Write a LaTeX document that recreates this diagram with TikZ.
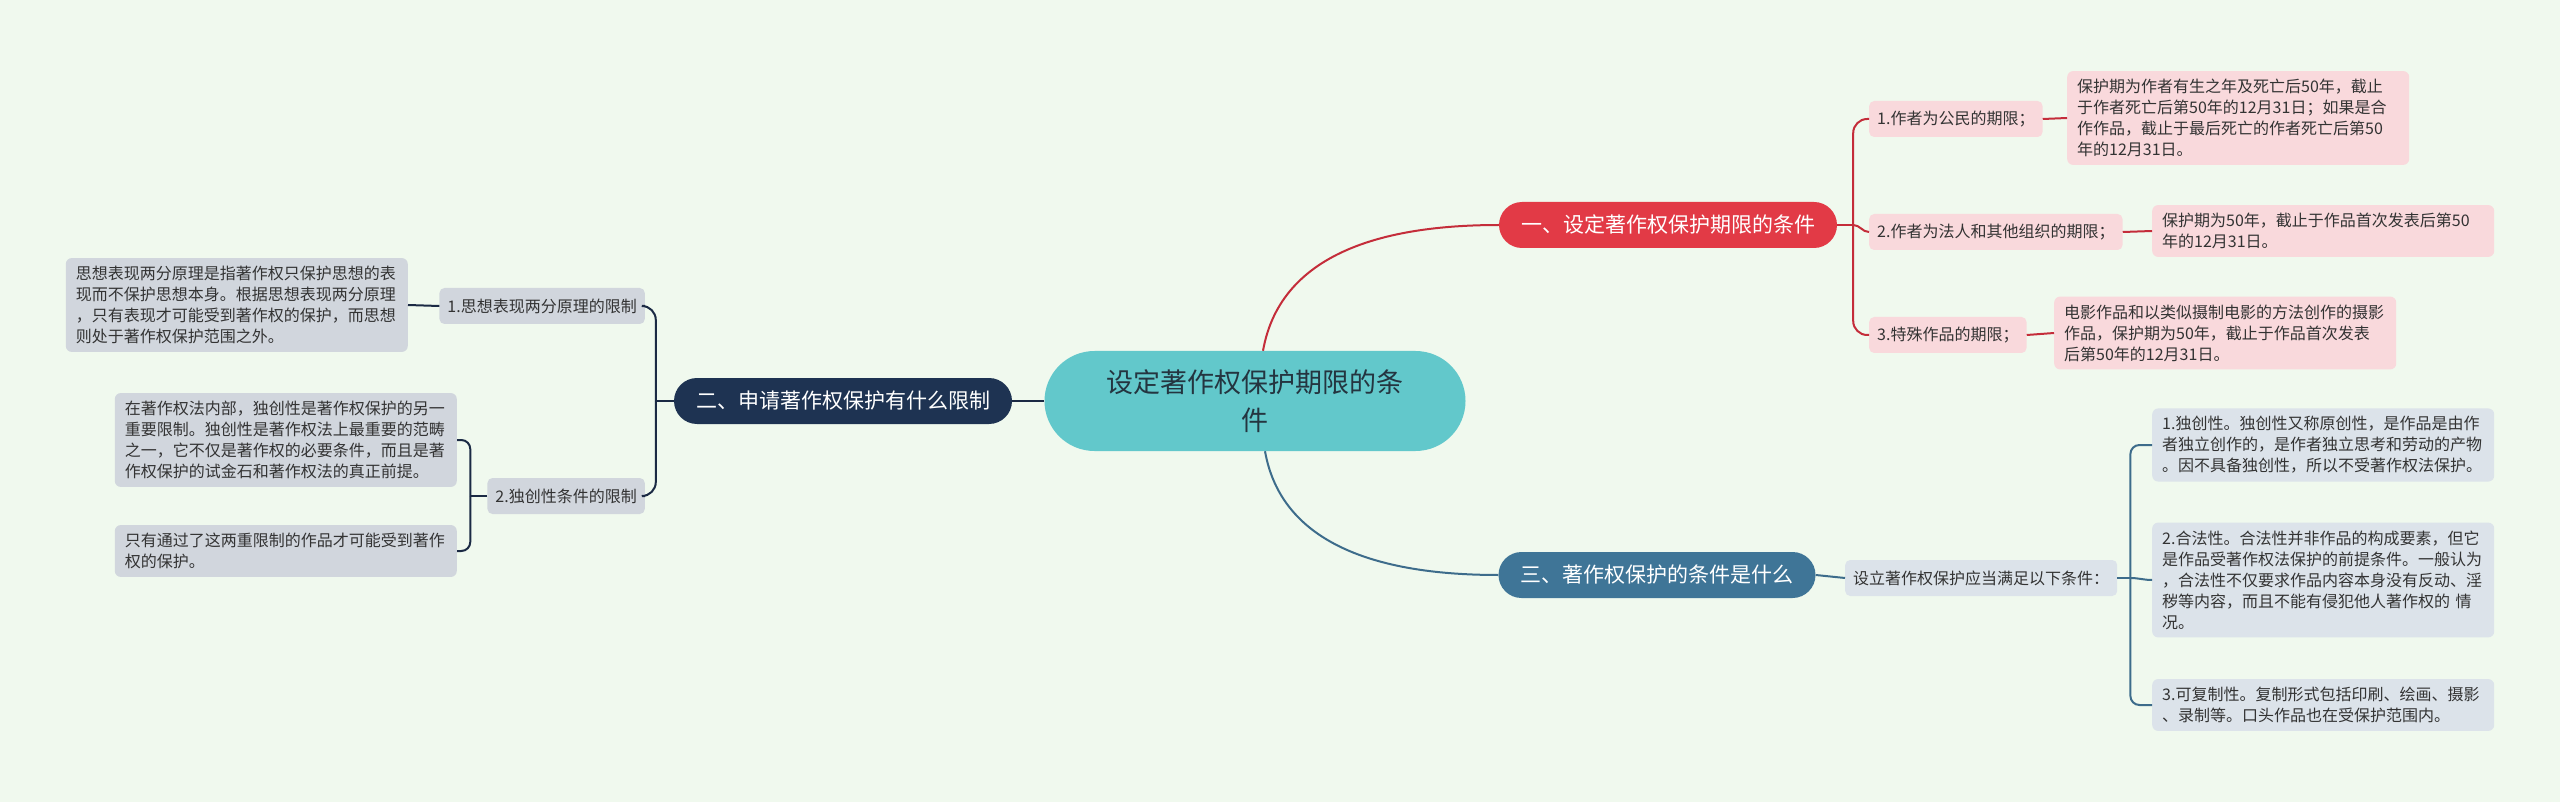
\documentclass[tikz,border=0pt]{standalone}
\usepackage{fontspec}
\setmainfont{Noto Sans CJK SC}

\definecolor{bgcol}{HTML}{F0F9EE}
\definecolor{rootfill}{HTML}{62C8CB}
\definecolor{roottext}{HTML}{243540}
\definecolor{redmain}{HTML}{E23A46}
\definecolor{redline}{HTML}{C42D3A}
\definecolor{redleaf}{HTML}{F9D9DC}
\definecolor{navymain}{HTML}{1E3352}
\definecolor{navyline}{HTML}{1B2A44}
\definecolor{grayleaf}{HTML}{D1D6DD}
\definecolor{bluemain}{HTML}{3F7597}
\definecolor{blueline}{HTML}{3D6C8B}
\definecolor{blueleaf}{HTML}{DCE3EA}
\definecolor{txt}{HTML}{333333}

\tikzset{
    rootnode/.style={fill=rootfill, text=roottext, rounded corners=50pt, minimum width=421pt,
        minimum height=100pt, align=center, font=\fontsize{27}{38}\selectfont},
    mainnode/.style={text=white, rounded corners=23pt, minimum height=46pt,
        inner xsep=22pt, font=\fontsize{21}{25}\selectfont},
    subnode/.style={text=txt, rounded corners=5pt, minimum height=36pt,
        inner xsep=8pt, font=\fontsize{16}{21}\selectfont},
    leafnode/.style={text=txt, rounded corners=6pt, text width=322pt, inner xsep=10pt,
        inner ysep=8pt, align=left, font=\fontsize{16}{21}\selectfont},
    lineR/.style={draw=redline, line width=2pt, rounded corners=14pt},
    lineN/.style={draw=navyline, line width=2pt, rounded corners=14pt},
    lineB/.style={draw=blueline, line width=2pt, rounded corners=9pt}
}

\begin{document}
\begin{tikzpicture}[x=1pt,y=-1pt]%% mind map
    \fill[bgcol] (0,0) rectangle (2560,802);

    %% centre
    \node[rootnode] (root) at (1255,401) {设定著作权保护期限的条\\件};

    %% branch one
    \node[mainnode, fill=redmain] (one) at (1668,225) {一、设定著作权保护期限的条件};
        \node[subnode, fill=redleaf, anchor=west] (oneA) at (1869,119) {1.作者为公民的期限；};
        \node[subnode, fill=redleaf, anchor=west] (oneB) at (1869,232) {2.作者为法人和其他组织的期限；};
        \node[subnode, fill=redleaf, anchor=west] (oneC) at (1869,335) {3.特殊作品的期限；};
        \node[leafnode, fill=redleaf, anchor=west] (oneAleaf) at (2067,118)
            {保护期为作者有生之年及死亡后50年，截止\\于作者死亡后第50年的12月31日；如果是合\\作作品，截止于最后死亡的作者死亡后第50\\年的12月31日。};
        \node[leafnode, fill=redleaf, anchor=west] (oneBleaf) at (2152,231)
            {保护期为50年，截止于作品首次发表后第50\\年的12月31日。};
        \node[leafnode, fill=redleaf, anchor=west] (oneCleaf) at (2054,333)
            {电影作品和以类似摄制电影的方法创作的摄影\\作品，保护期为50年，截止于作品首次发表\\后第50年的12月31日。};

    %% branch two
    \node[mainnode, fill=navymain] (two) at (843,401) {二、申请著作权保护有什么限制};
        \node[subnode, fill=grayleaf, anchor=east] (twoA) at (645,306) {1.思想表现两分原理的限制};
        \node[subnode, fill=grayleaf, anchor=east] (twoB) at (645,496) {2.独创性条件的限制};
        \node[leafnode, fill=grayleaf, anchor=east] (twoAleaf) at (408,305)
            {思想表现两分原理是指著作权只保护思想的表\\现而不保护思想本身。根据思想表现两分原理\\，只有表现才可能受到著作权的保护，而思想\\则处于著作权保护范围之外。};
        \node[leafnode, fill=grayleaf, anchor=east] (twoBleafA) at (457,440)
            {在著作权法内部，独创性是著作权保护的另一\\重要限制。独创性是著作权法上最重要的范畴\\之一，它不仅是著作权的必要条件，而且是著\\作权保护的试金石和著作权法的真正前提。};
        \node[leafnode, fill=grayleaf, anchor=east] (twoBleafB) at (457,551)
            {只有通过了这两重限制的作品才可能受到著作\\权的保护。};

    %% branch three
    \node[mainnode, fill=bluemain] (three) at (1657,575) {三、著作权保护的条件是什么};
        \node[subnode, fill=blueleaf, anchor=west] (threeA) at (1845,578) {设立著作权保护应当满足以下条件：};
        \node[leafnode, fill=blueleaf, anchor=west] (threeAleafA) at (2152,445)
            {1.独创性。独创性又称原创性，是作品是由作\\者独立创作的，是作者独立思考和劳动的产物\\。因不具备独创性，所以不受著作权法保护。};
        \node[leafnode, fill=blueleaf, anchor=west] (threeAleafB) at (2152,580)
            {2.合法性。合法性并非作品的构成要素，但它\\是作品受著作权法保护的前提条件。一般认为\\，合法性不仅要求作品内容本身没有反动、淫\\秽等内容，而且不能有侵犯他人著作权的 情\\况。};
        \node[leafnode, fill=blueleaf, anchor=west] (threeAleafC) at (2152,705)
            {3.可复制性。复制形式包括印刷、绘画、摄影\\、录制等。口头作品也在受保护范围内。};

    %% connectors
    \draw[lineR] ([xshift=8pt]root.north) to[out=80, in=180] (one.west);
    \draw[lineN] (root.west) -- (two.east);
    \draw[lineB] ([xshift=10pt]root.south) to[out=-80, in=180] (three.west);

    \draw[lineR] (one.east) -- ++(16,0) coordinate (oneJ);
        \draw[lineR] (oneJ) |- (oneA.west);
        \draw[lineR] (oneJ) to[out=0, in=180] (oneB.west);
        \draw[lineR] (oneJ) |- (oneC.west);
        \draw[lineR] (oneA.east) -- (oneAleaf.west);
        \draw[lineR] (oneB.east) -- (oneBleaf.west);
        \draw[lineR] (oneC.east) -- (oneCleaf.west);

    \draw[lineN] (two.west) -- ++(-18,0) coordinate (twoJ);
        \draw[lineN] (twoJ) |- (twoA.east);
        \draw[lineN] (twoJ) |- (twoB.east);
        \draw[lineN] (twoA.west) -- (twoAleaf.east);
        \draw[lineN, rounded corners=9pt] (twoB.west) -- ++(-17,0) coordinate (twoBJ);
        \draw[lineN, rounded corners=9pt] (twoBJ) |- (twoBleafA.east);
        \draw[lineN, rounded corners=9pt] (twoBJ) |- (twoBleafB.east);

    \draw[lineB] (three.east) -- (threeA.west);
        \draw[lineB] (threeA.east) -- ++(13,0) coordinate (threeJ);
        \draw[lineB] (threeJ) |- (threeAleafA.west);
        \draw[lineB] (threeJ) to[out=0, in=180] (threeAleafB.west);
        \draw[lineB] (threeJ) |- (threeAleafC.west);
\end{tikzpicture}
\end{document}
